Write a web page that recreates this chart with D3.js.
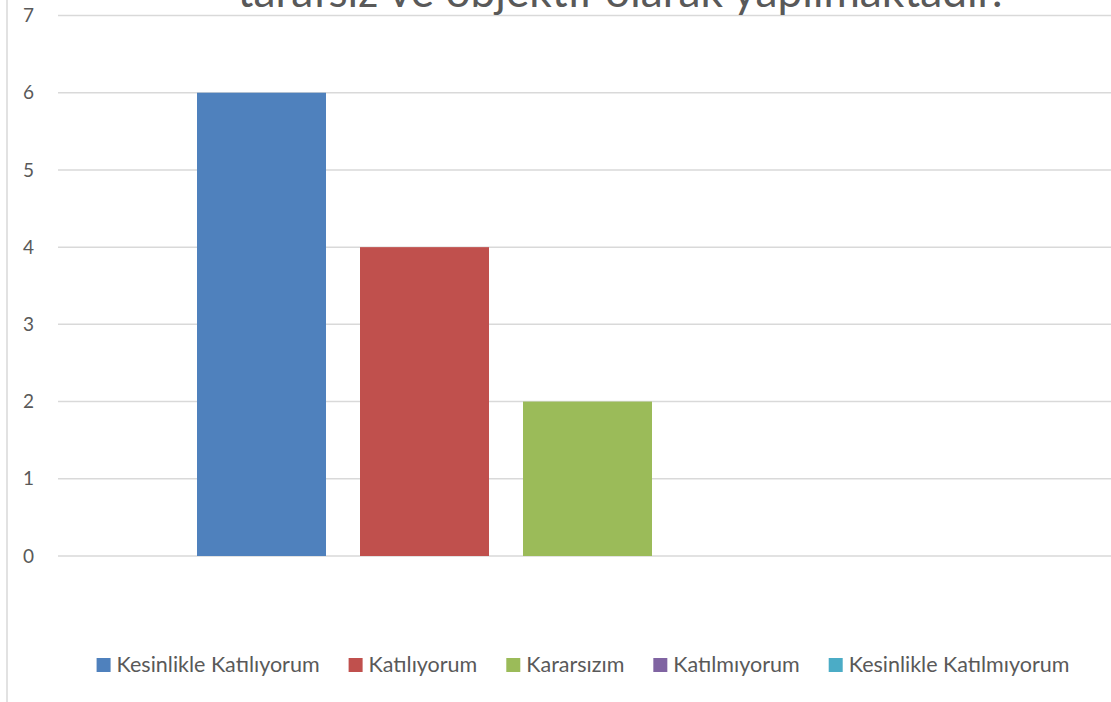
<!DOCTYPE html>
<meta charset="utf-8">
<html lang="tr">
<head>
	<title>Anket grafiği</title>
	<script src="https://d3js.org/d3.v7.min.js" charset="utf-8"></script>
	<style>
		body { margin: 0; background: #fff; }
		text { font-family: Lato, "Open Sans", sans-serif; fill: #595959; }
	</style>
</head>
<body>
	<script>
// chart data
var series = ["Kesinlikle Katılıyorum", "Katılıyorum", "Kararsızım", "Katılmıyorum", "Kesinlikle Katılmıyorum"];
var values = [6, 4, 2, 0, 0];
var colors = ["#4F81BD", "#C0504D", "#9BBB59", "#8064A2", "#4BACC6"];
var yTicks = [0, 1, 2, 3, 4, 5, 6, 7];
var titleText = "tarafsız ve objektif olarak yapılmaktadır.";

var width = 1111,
    height = 702;

var svg = d3.select("body").append("svg")
    .attr("width", width)
    .attr("height", height);

// outer chart border (only left edge is visible)
svg.append("line")
    .attr("x1", 7).attr("x2", 7)
    .attr("y1", 0).attr("y2", height)
    .style("stroke", "#D9D9D9")
    .style("stroke-width", 1.5);

var y = d3.scaleLinear()
    .domain([0, 7])
    .range([556, 15.5]);

// one group holding all five series
var x0 = d3.scaleBand()
    .domain([""])
    .range([58, 1117])
    .paddingInner(0)
    .paddingOuter(0.1497);

var x1 = d3.scaleBand()
    .domain(series)
    .range([0, x0.bandwidth()])
    .paddingInner(0.2086)
    .paddingOuter(0.1043);

// gridlines
svg.append("g")
    .selectAll("line")
    .data(yTicks)
  .enter().append("line")
    .attr("x1", 58)
    .attr("x2", width)
    .attr("y1", function(d) { return y(d); })
    .attr("y2", function(d) { return y(d); })
    .style("stroke", "#D9D9D9")
    .style("stroke-width", 1.5);

// y labels
var yAxis = svg.append("g")
    .attr("transform", "translate(34,0)")
    .call(d3.axisLeft(y).tickValues(yTicks).tickFormat(d3.format("d")).tickSize(0).tickPadding(0));
yAxis.select(".domain").remove();
yAxis.selectAll("text")
    .style("font-size", "19px")
    .style("fill", "#595959")
    .style("font-family", "Lato, 'Open Sans', sans-serif");

// bars
svg.append("g")
    .attr("transform", "translate(" + x0("") + ",0)")
    .selectAll("rect")
    .data(series)
  .enter().append("rect")
    .attr("x", function(d) { return x1(d); })
    .attr("width", x1.bandwidth())
    .attr("y", function(d, i) { return y(values[i]); })
    .attr("height", function(d, i) { return y(0) - y(values[i]); })
    .style("fill", function(d, i) { return colors[i]; });

// title, top part is cut off by the frame
var title = svg.append("text")
    .attr("x", 620)
    .attr("y", 7)
    .attr("text-anchor", "middle")
    .style("font-size", "36px")
    .text(titleText);
var tw = title.node().getComputedTextLength();
title.style("font-size", (36 * 765 / tw) + "px");

// legend
var legend = svg.append("g");
var items = legend.selectAll("g")
    .data(series)
  .enter().append("g");

items.append("rect")
    .attr("width", 14)
    .attr("height", 14)
    .attr("y", 658)
    .style("fill", function(d, i) { return colors[i]; });

items.append("text")
    .attr("y", 672)
    .style("font-size", "21.5px")
    .text(function(d) { return d; });

var pos = [], cur = 0;
items.each(function() {
  var w = d3.select(this).select("text").node().getComputedTextLength();
  pos.push(cur);
  cur += 20 + w + 29;
});
var total = cur - 29;
var start = 583 - total / 2;
items.each(function(d, i) {
  var g = d3.select(this);
  g.select("rect").attr("x", start + pos[i]);
  g.select("text").attr("x", start + pos[i] + 20);
});
	</script>
</body>
</html>
